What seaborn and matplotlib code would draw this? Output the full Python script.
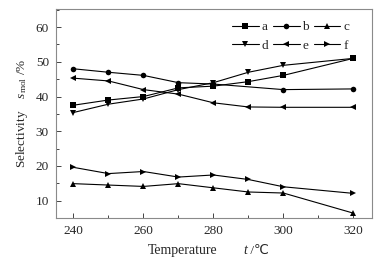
import matplotlib
matplotlib.use('Agg')
import matplotlib.pyplot as plt
import seaborn as sns
import pandas as pd
import numpy as np
from matplotlib.ticker import MultipleLocator

# temperatures (degC)
temps = [240, 250, 260, 270, 280, 290, 300, 320]
temps_b = [240, 250, 260, 270, 280, 300, 320]

sel_a = [37.5, 39.0, 40.0, 42.5, 43.0, 44.3, 46.1, 51.0]
sel_b = [48.0, 47.0, 46.1, 44.0, 43.6, 42.0, 42.2]
sel_c = [14.9, 14.5, 14.1, 14.9, 13.7, 12.5, 12.2, 6.4]
sel_d = [35.4, 37.8, 39.3, 42.0, 44.0, 47.0, 49.0, 51.0]
sel_e = [45.3, 44.5, 42.0, 40.7, 38.2, 37.0, 36.9, 36.9]
sel_f = [19.6, 17.8, 18.4, 16.8, 17.4, 16.1, 14.0, 12.1]

series = {
    'a': (temps, sel_a, 's'),
    'b': (temps_b, sel_b, 'o'),
    'c': (temps, sel_c, '^'),
    'd': (temps, sel_d, 'v'),
    'e': (temps, sel_e, '<'),
    'f': (temps, sel_f, '>'),
}

sns.set_style('ticks')
plt.rcParams['font.family'] = ['Liberation Serif', 'DejaVu Sans']
plt.rcParams['mathtext.fontset'] = 'custom'
plt.rcParams['mathtext.rm'] = 'Liberation Serif'
plt.rcParams['mathtext.it'] = 'Liberation Serif:italic'
plt.rcParams['font.size'] = 9

fig = plt.figure(figsize=(3.83, 2.60), dpi=100)
ax = fig.add_axes([0.146, 0.1615, 0.825, 0.8035])

for name, (x, y, mk) in series.items():
    df = pd.DataFrame({'t': x, 's': y})
    sns.lineplot(data=df, x='t', y='s', ax=ax, color='black', lw=0.8,
                 marker=mk, markersize=4, markeredgewidth=0,
                 markerfacecolor='black', label=name)

ax.set_xlim(235, 325.3)
ax.set_ylim(5, 65.2)
ax.set_xticks([240, 260, 280, 300, 320])
ax.set_yticks([10, 20, 30, 40, 50, 60])
ax.xaxis.set_minor_locator(MultipleLocator(10))
ax.yaxis.set_minor_locator(MultipleLocator(5))
ax.tick_params(which='both', direction='in', color='#444444', width=0.7,
               labelsize=9.5, pad=5)
ax.tick_params(which='major', length=3.5)
ax.tick_params(which='minor', length=2.5)
for sp in ax.spines.values():
    sp.set_color('#8a8a8a')
    sp.set_linewidth(0.8)

# x label in pieces: plain word, italic t, then unit with fallback font
xl = ax.set_xlabel('Temperature', fontsize=10, ha='left')
ax.xaxis.set_label_coords(0.291, -0.125)
xl.set_va('top')
t_lab = ax.annotate('t', xy=(1, 0), xycoords=xl, xytext=(18.5, 0),
                    textcoords='offset points', ha='left', va='bottom',
                    fontsize=10, style='italic')
ax.annotate(' /℃', xy=(1, 0), xycoords=t_lab, xytext=(0, 0),
            textcoords='offset points', ha='left', va='bottom', fontsize=9.5,
            family=['Liberation Serif', 'DejaVu Sans'])

ax.set_ylabel(r'Selectivity    $s_{\rm mol}$ /%', fontsize=9.5, labelpad=4)

# legend rows: a b c / d e f
handles, labels = ax.get_legend_handles_labels()
order = [0, 3, 1, 4, 2, 5]
ax.legend([handles[i] for i in order], [labels[i] for i in order],
          ncol=3, frameon=False, loc='upper right', bbox_to_anchor=(0.965, 1.0),
          handlelength=2.0, handletextpad=0.2, columnspacing=0.4,
          labelspacing=0.5, fontsize=9.5)

fig.savefig('out.png', dpi=100)
